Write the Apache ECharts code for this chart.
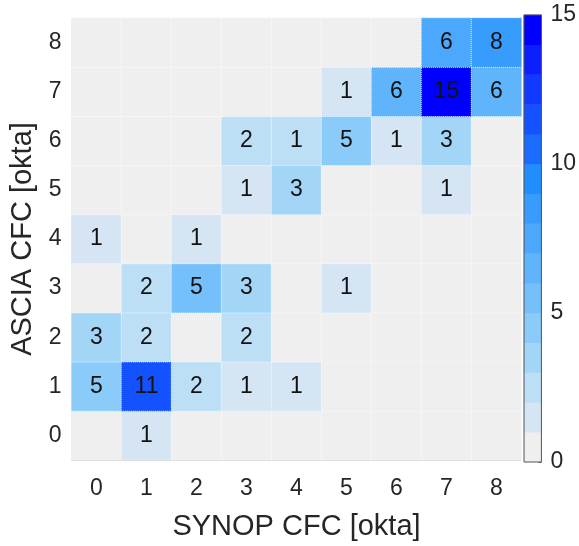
<!DOCTYPE html>
<html>
<head>
<meta charset="utf-8">
<script src="https://cdn.jsdelivr.net/npm/echarts@6/dist/echarts.min.js"></script>
<style>
html,body{margin:0;padding:0;background:#fff;}
#chart{width:579px;height:546px;}
</style>
</head>
<body>
<div id="chart"></div>
<script>
// Category labels (okta)
const synopCats = ['0','1','2','3','4','5','6','7','8'];
const asciaCats = ['0','1','2','3','4','5','6','7','8'];

// Counts shown in each cell, rows = ASCIA 0..8, columns = SYNOP 0..8
const counts = [
  [0, 1, 0, 0, 0, 0, 0, 0, 0],
  [5,11, 2, 1, 1, 0, 0, 0, 0],
  [3, 2, 0, 2, 0, 0, 0, 0, 0],
  [0, 2, 5, 3, 0, 1, 0, 0, 0],
  [1, 0, 1, 0, 0, 0, 0, 0, 0],
  [0, 0, 0, 1, 3, 0, 0, 1, 0],
  [0, 0, 0, 2, 1, 5, 1, 3, 0],
  [0, 0, 0, 0, 0, 1, 6,15, 6],
  [0, 0, 0, 0, 0, 0, 0, 6, 8]
];

// Colour level read from each cell's shade
const shades = [
  [0, 1, 0, 0, 0, 0, 0, 0, 0],
  [4,11, 2, 1, 1, 0, 0, 0, 0],
  [3, 2, 0, 2, 0, 0, 0, 0, 0],
  [0, 2, 5, 3, 0, 1, 0, 0, 0],
  [1, 0, 1, 0, 0, 0, 0, 0, 0],
  [0, 0, 0, 1, 3, 0, 0, 1, 0],
  [0, 0, 0, 2, 2, 4, 1, 3, 0],
  [0, 0, 0, 0, 0, 1, 6,14, 6],
  [0, 0, 0, 0, 0, 0, 0, 7, 8]
];

// Colour bar
const levelColors = ['#efefef','#d5e5f3','#bddff6','#a3d5f7','#8bcbf9','#75c0fa','#60b4fb',
                     '#4ca8fc','#389cfd','#218efe','#1a6cff','#1552ff','#103aff','#0a20ff','#0000ff'];
const cbMin = 0, cbMax = 15, cbStep = 5;
const rText = 'R=0.92';

const levels = levelColors.map((c, i) => String(i));
const cellData = [];
for (let y = 0; y < asciaCats.length; y++) {
  for (let x = 0; x < synopCats.length; x++) {
    cellData.push([x, y, counts[y][x], shades[y][x]]);
  }
}
const cbData = levels.map((l, i) => [0, i, i, i]);
const pieces = levelColors.map((c, i) => ({ gte: i, lt: i + 1, color: c }));

const FONT = 'Liberation Sans, Arial, Helvetica, sans-serif';
const TXT = '#262626';

const chart = echarts.init(document.getElementById('chart'), null, { renderer: 'canvas' });
chart.setOption({
  backgroundColor: '#ffffff',
  animation: false,
  textStyle: { fontFamily: FONT },
  grid: [
    { left: 71.5, top: 18, width: 450, height: 443, show: false },
    { left: 524, top: 15, width: 19, height: 447, show: true, borderColor: '#555', borderWidth: 1, backgroundColor: 'transparent', z: 5 }
  ],
  xAxis: [
    {
      type: 'category', gridIndex: 0, data: synopCats,
      name: 'SYNOP CFC [okta]', nameLocation: 'middle', nameGap: 52,
      nameTextStyle: { fontSize: 29, color: TXT, fontFamily: FONT },
      axisLine: { show: true, lineStyle: { color: '#c8c8c8', type: 'dotted', width: 1 } },
      axisTick: { show: false },
      splitLine: { show: false },
      axisLabel: { fontSize: 23, color: TXT, margin: 17, fontFamily: FONT }
    },
    {
      type: 'category', gridIndex: 1, data: ['cb'], show: false
    }
  ],
  yAxis: [
    {
      type: 'category', gridIndex: 0, data: asciaCats,
      name: 'ASCIA CFC [okta]', nameLocation: 'middle', nameGap: 24,
      nameTextStyle: { fontSize: 29, color: TXT, fontFamily: FONT },
      axisLine: { show: true, lineStyle: { color: '#c8c8c8', type: 'dotted', width: 1 } },
      axisTick: { show: false },
      splitLine: { show: false },
      axisLabel: { fontSize: 23, color: TXT, margin: 10, fontFamily: FONT }
    },
    {
      type: 'category', gridIndex: 1, data: levels, show: false
    },
    {
      type: 'value', gridIndex: 1, min: cbMin, max: cbMax, interval: cbStep, position: 'right',
      axisLine: { show: false },
      axisTick: { show: true, inside: true, length: 3, lineStyle: { color: '#444' } },
      splitLine: { show: false },
      axisLabel: { fontSize: 23, color: TXT, margin: 9, fontFamily: FONT }
    }
  ],
  visualMap: {
    type: 'piecewise', show: false, dimension: 3, seriesIndex: [0, 1],
    pieces: pieces
  },
  series: [
    {
      type: 'heatmap', xAxisIndex: 0, yAxisIndex: 0, data: cellData,
      itemStyle: { borderColor: 'rgba(255,255,255,0.75)', borderWidth: 1, borderType: 'dotted' },
      label: {
        show: true, fontSize: 23, color: '#111', fontFamily: FONT,
        formatter: p => (p.value[2] > 0 ? String(p.value[2]) : '')
      },
      emphasis: { disabled: true }
    },
    {
      type: 'heatmap', xAxisIndex: 1, yAxisIndex: 1, data: cbData,
      label: { show: false }, emphasis: { disabled: true }
    }
  ],
  graphic: [
    {
      type: 'text', left: 95, top: 37,
      style: { text: rText, fontSize: 21, fill: '#111', fontFamily: FONT }
    }
  ]
});
</script>
</body>
</html>
